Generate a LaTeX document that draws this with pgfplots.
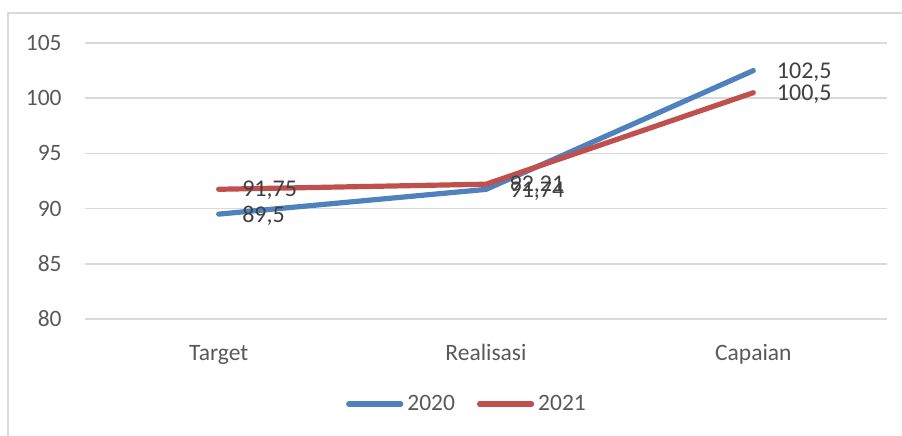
\documentclass[border=0pt]{standalone}
\usepackage{fontspec}
\setmainfont{Carlito}
\usepackage{pgfplots}
\pgfplotsset{compat=1.18}
\definecolor{s2020}{HTML}{4F81BD}
\definecolor{s2021}{HTML}{C0504D}
\definecolor{gridc}{HTML}{D9D9D9}
\definecolor{txt}{HTML}{595959}
\definecolor{lbl}{HTML}{404040}
\begin{document}
\begin{tikzpicture}
\path[use as bounding box] (-42.5pt,-58pt) rectangle (408.5pt,159.5pt);
\draw[gridc, line width=0.8pt] (-38.5pt,-60pt) -- (-38.5pt,153pt) -- (410pt,153pt);
\begin{axis}[
  at={(0,0)}, anchor=south west,
  scale only axis, width=401pt, height=138pt,
  xmin=-0.5, xmax=2.5, ymin=80, ymax=105,
  xtick={0,1,2}, xticklabels={Target,Realisasi,Capaian},
  ytick={80,85,...,105},
  ymajorgrids, grid style={gridc, line width=0.75pt},
  axis line style={draw=none},
  major tick length=0,
  clip=false,
  font=\fontsize{11.75}{13}\selectfont,
  /pgf/number format/assume math mode=true,
  yticklabel style={anchor=east, inner sep=0pt, xshift=-11.5pt, text=txt},
  xticklabel style={anchor=base, inner sep=0pt, yshift=-20.5pt, text=txt},
  nodes near coords,
  point meta=y,
  nodes near coords style={anchor=west, inner sep=0pt, xshift=10.5pt, yshift=-0.7pt,
    font=\fontsize{12}{13}\selectfont, text=lbl,
    /pgf/number format/.cd, use comma, precision=2, 1000 sep={}},
  legend columns=2,
  legend style={draw=none, fill=none, at={(191.5pt,-42.5pt)}, anchor=center,
    inner sep=0pt, text=txt, /tikz/every even column/.append style={column sep=9pt}},
  legend cell align=left,
  legend image code/.code={\draw[#1, line cap=round] (0pt,0pt) -- (26pt,0pt);},
]
\addplot[s2020, line width=2.6pt, line cap=round, line join=round]
  coordinates {(0,89.5) (1,91.74) (2,102.5)};
\addlegendentry{2020}
\addplot[s2021, line width=2.6pt, line cap=round, line join=round]
  coordinates {(0,91.75) (1,92.21) (2,100.5)};
\addlegendentry{2021}
\end{axis}
\end{tikzpicture}
\end{document}
